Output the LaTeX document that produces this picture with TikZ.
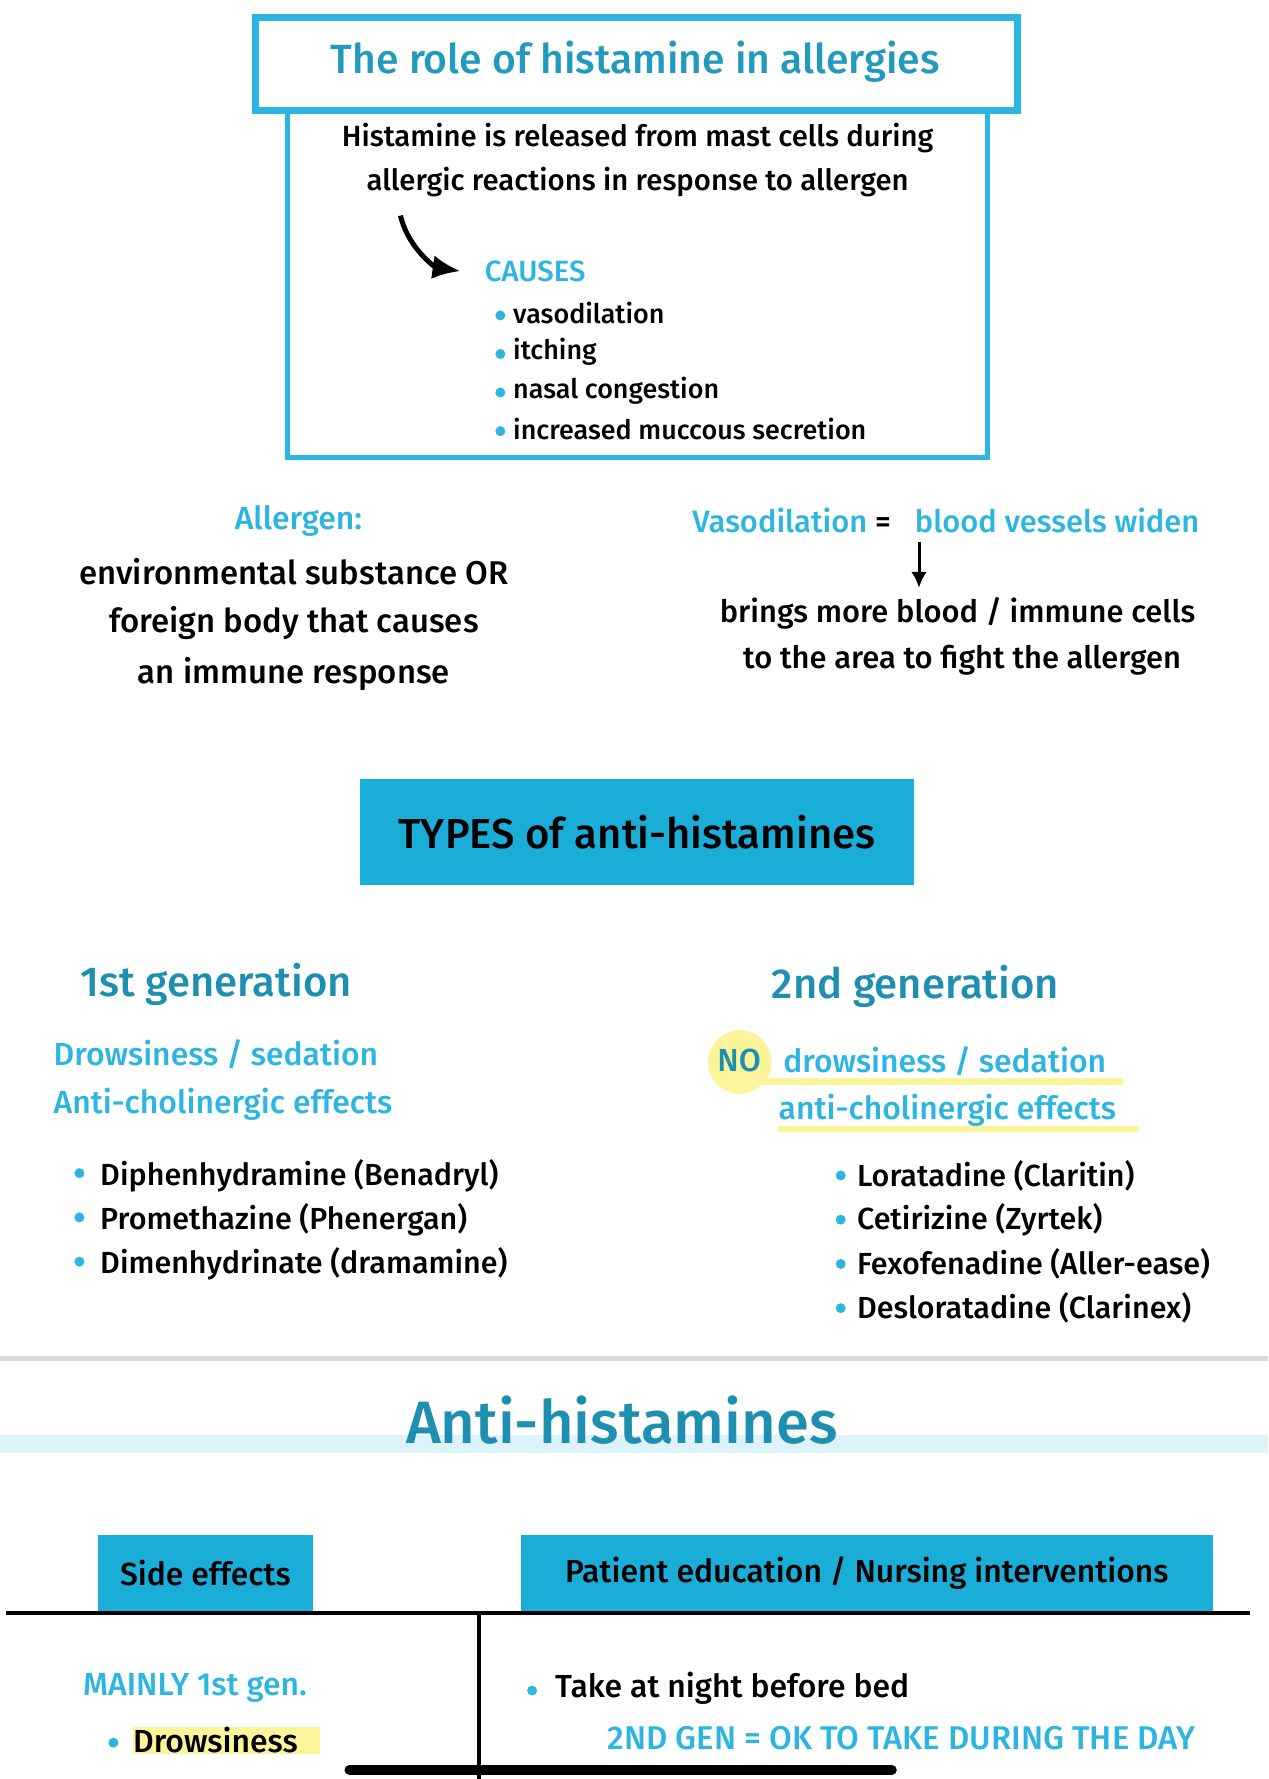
\documentclass[tikz,border=0pt]{standalone}
\usepackage{fontspec}
\usetikzlibrary{arrows.meta}
\setmainfont{Fira Sans}[UprightFont={* Medium}]
\definecolor{cy}{HTML}{2BB5E0}
\definecolor{tl}{HTML}{1E8FB0}
\definecolor{bx}{HTML}{1AADD8}
\definecolor{hl}{HTML}{FBF49A}
\definecolor{band}{HTML}{DDF3FA}
\begin{document}
\begin{tikzpicture}[x=0.02cm,y=-0.02cm,
  t/.style={inner sep=0pt,font=\fontsize{14.7}{16}\selectfont},
  tl16/.style={inner sep=0pt,anchor=west,font=\fontsize{16}{18}\selectfont},
  bul/.style={circle,fill=cy,inner sep=0pt,minimum size=5pt},
  hd/.style={inner sep=0pt,anchor=west,text=tl,font=\fontsize{21}{24}\selectfont}]
\useasboundingbox (0,0) rectangle (1118,1568);
% top boxes
\draw[cy,line width=3.5pt] (225,15) rectangle (897,97);
\node[t,text=tl!70!cy,font=\fontsize{20.5}{22}\selectfont] (title) at (560,54) {The role of histamine in allergies};
\draw[cy,line width=2.5pt] (253,97) rectangle (870,403);
\node[t] (l1) at (562,122) {Histamine is released from mast cells during};
\node[t] (l2) at (562,160) {allergic reactions in response to allergen};
\node[t,anchor=west,text=cy] (causes) at (427,239) {CAUSES};
\coordinate (cs) at (353,190);
\draw[line width=2.5pt,-{Latex[length=14pt,width=12pt]}] (cs) .. controls (360,220) and (385,236) .. ([xshift=-12pt]causes.west);
\foreach \y/\s [count=\i] in {276/vasodilation,310/itching,344/nasal congestion,378/increased muccous secretion}{
  \node[bul] (b\i) at (441,\y+2) {};
  \node[t,anchor=west,font=\fontsize{13.5}{16}\selectfont] (c\i) at (452,\y) {\s};}
% allergen
\node[t,text=cy,font=\fontsize{16}{18}\selectfont] (al) at (263,459) {Allergen:};
\node[t,font=\fontsize{16.5}{18}\selectfont] (a1) at (259,504) {environmental substance OR};
\node[t,font=\fontsize{16.5}{18}\selectfont] (a2) at (259,549) {foreign body that causes};
\node[t,font=\fontsize{16.5}{18}\selectfont] (a3) at (259,594) {an immune response};
% vasodilation
\node[t,anchor=west,font=\fontsize{15.5}{18}\selectfont] (vd) at (610,459) {\textcolor{cy}{Vasodilation} =};
\node[t,anchor=west,text=cy,font=\fontsize{15.5}{18}\selectfont] (bv) at (806,459) {blood vessels widen};
\node[t,font=\fontsize{15.5}{18}\selectfont] (m1) at (844,541) {brings more blood / immune cells};
\node[t,font=\fontsize{15.5}{18}\selectfont] (m2) at (848,582) {to the area to fight the allergen};
\coordinate (ar1) at (810,478); \coordinate (ar2) at (810,518);
\draw[line width=1.5pt,-{Latex[length=8pt,width=8pt]}] (ar1) -- (ar2);
% types
\node[fill=bx,minimum width=489*0.02cm,minimum height=93*0.02cm,inner sep=0pt,font=\fontsize{21}{24}\selectfont] (types) at (561.5,733.5) {TYPES of anti-histamines};
\node[hd] (g1) at (71,868) {1st generation};
\node[hd] (g2) at (680,869) {2nd generation};
\node[tl16,text=cy] (d1) at (47,929) {Drowsiness / sedation};
\node[tl16,text=cy] (d2) at (47,973) {Anti-cholinergic effects};
\fill[hl] (652,936) circle (28);
\fill[hl] (632,950) rectangle (990,956);
\fill[hl] (686,992) rectangle (1004,998);
\node[tl16,text=tl] (no) at (632,935) {NO};
\node[tl16,text=cy] (n1) at (690,935) {drowsiness / sedation};
\node[tl16,text=cy] (n2) at (686,979) {anti-cholinergic effects};
\foreach \y/\s [count=\i] in {1036/Diphenhydramine (Benadryl),1075/Promethazine (Phenergan),1114/Dimenhydrinate (dramamine)}{
  \node[bul] (p\i) at (70,\y-2) {};
  \node[tl16,font=\fontsize{15.3}{18}\selectfont] (q\i) at (88,\y) {\s};}
\foreach \y/\s [count=\i] in {1036/Loratadine (Claritin),1075/Cetirizine (Zyrtek),1114/Fexofenadine (Aller-ease),1153/Desloratadine (Clarinex)}{
  \node[bul] (r\i) at (741,\y) {};
  \node[tl16,font=\fontsize{15.3}{18}\selectfont] (s\i) at (755,\y) {\s};}
% separator
\fill[black!15] (0,1195) rectangle (1118,1200);
\fill[band] (0,1265) rectangle (1118,1281);
\node[t,text=tl,font=\fontsize{30}{32}\selectfont] (ah) at (548,1252) {Anti-histamines};
\node[fill=bx,minimum width=190*0.02cm,minimum height=67*0.02cm,inner sep=0pt,font=\fontsize{16}{18}\selectfont] (se) at (181,1386.5) {Side effects};
\node[fill=bx,minimum width=610*0.02cm,minimum height=67*0.02cm,inner sep=0pt,font=\fontsize{16}{18}\selectfont] (pe) at (764,1386.5) {Patient education / Nursing interventions};
\coordinate (h1) at (5,1422); \coordinate (h2) at (1102,1422);
\coordinate (v1) at (422,1422); \coordinate (v2) at (422,1568);
\coordinate (w1) at (308,1560); \coordinate (w2) at (786,1560);
\draw[line width=2pt] (h1) -- (h2);
\draw[line width=2pt] (v1) -- (v2);
\draw[line width=5pt,line cap=round] (w1) -- (w2);
\node[tl16,text=cy] (mg) at (73,1488) {MAINLY 1st gen.};
\fill[hl] (117,1522) rectangle (282,1546);
\node[bul] (x1) at (100,1536) {};
\node[tl16] (dr) at (117,1534) {Drowsiness};
\node[bul] (x2) at (469,1490) {};
\node[tl16] (tk) at (489,1488) {Take at night before bed};
\node[tl16,text=cy,font=\fontsize{16.5}{18}\selectfont] (og) at (535,1532) {2ND GEN = OK TO TAKE DURING THE DAY};
\end{tikzpicture}
\end{document}
